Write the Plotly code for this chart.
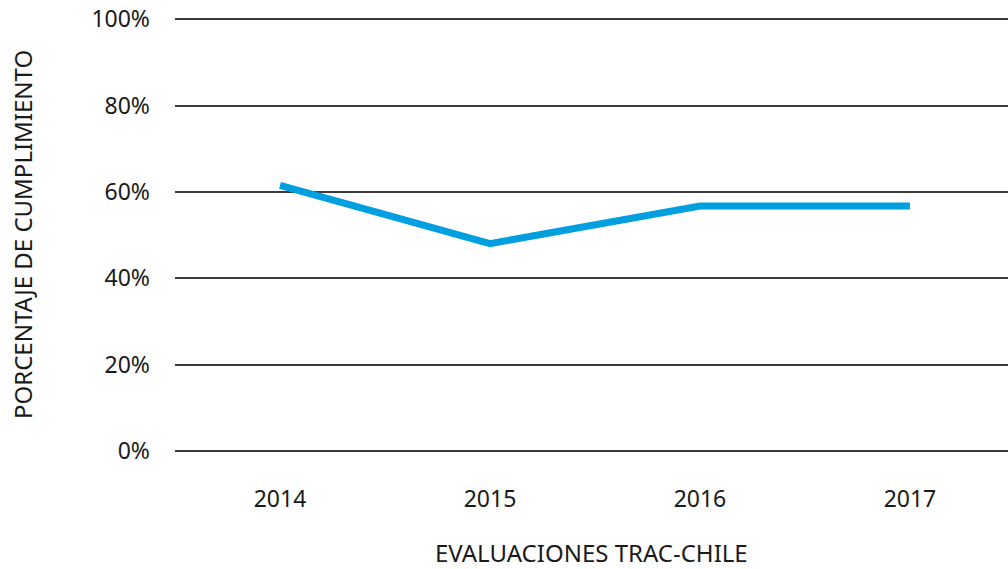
import plotly.graph_objects as go

years = ["2014", "2015", "2016", "2017"]
cumplimiento = [61.5, 48, 56.7, 56.7]
y_ticks = [0, 20, 40, 60, 80, 100]
y_tick_labels = ["0%", "20%", "40%", "60%", "80%", "100%"]

font_family = "Noto Sans, Open Sans, sans-serif"

fig = go.Figure()
fig.add_trace(go.Scatter(
    x=years, y=cumplimiento, mode="lines",
    line=dict(color="#009FE0", width=7),
    hoverinfo="skip", showlegend=False,
))

fig.update_layout(
    width=1008, height=569,
    margin=dict(l=175, r=0, t=17, b=116, autoexpand=False),
    paper_bgcolor="white", plot_bgcolor="white",
    font=dict(family=font_family, size=23, color="#1a1a1a"),
    xaxis=dict(
        type="category", range=[-0.5, 3.467], automargin=False,
        showgrid=False, zeroline=False, showline=False, ticks="",
        ticklabelstandoff=30,
    ),
    yaxis=dict(
        range=[-0.5, 100.5], tickvals=y_ticks, ticktext=y_tick_labels,
        automargin=False, ticklabeloverflow="allow",
        showgrid=True, gridcolor="#3a3a3a", gridwidth=1.5,
        zeroline=False, showline=False, ticks="",
        ticklabelstandoff=24,
    ),
    annotations=[
        dict(text="EVALUACIONES TRAC-CHILE", xref="paper", yref="paper",
             x=0.5, y=0, yshift=-99, showarrow=False,
             xanchor="center", yanchor="middle", font=dict(size=24)),
        dict(text="PORCENTAJE DE CUMPLIMIENTO", xref="paper", yref="paper",
             x=0, xshift=-153, y=0.5, textangle=-90, showarrow=False,
             xanchor="center", yanchor="middle", font=dict(size=24)),
    ],
)

fig.write_html("out.html", config={"displayModeBar": False},
               post_script="document.body.style.margin='0';")
